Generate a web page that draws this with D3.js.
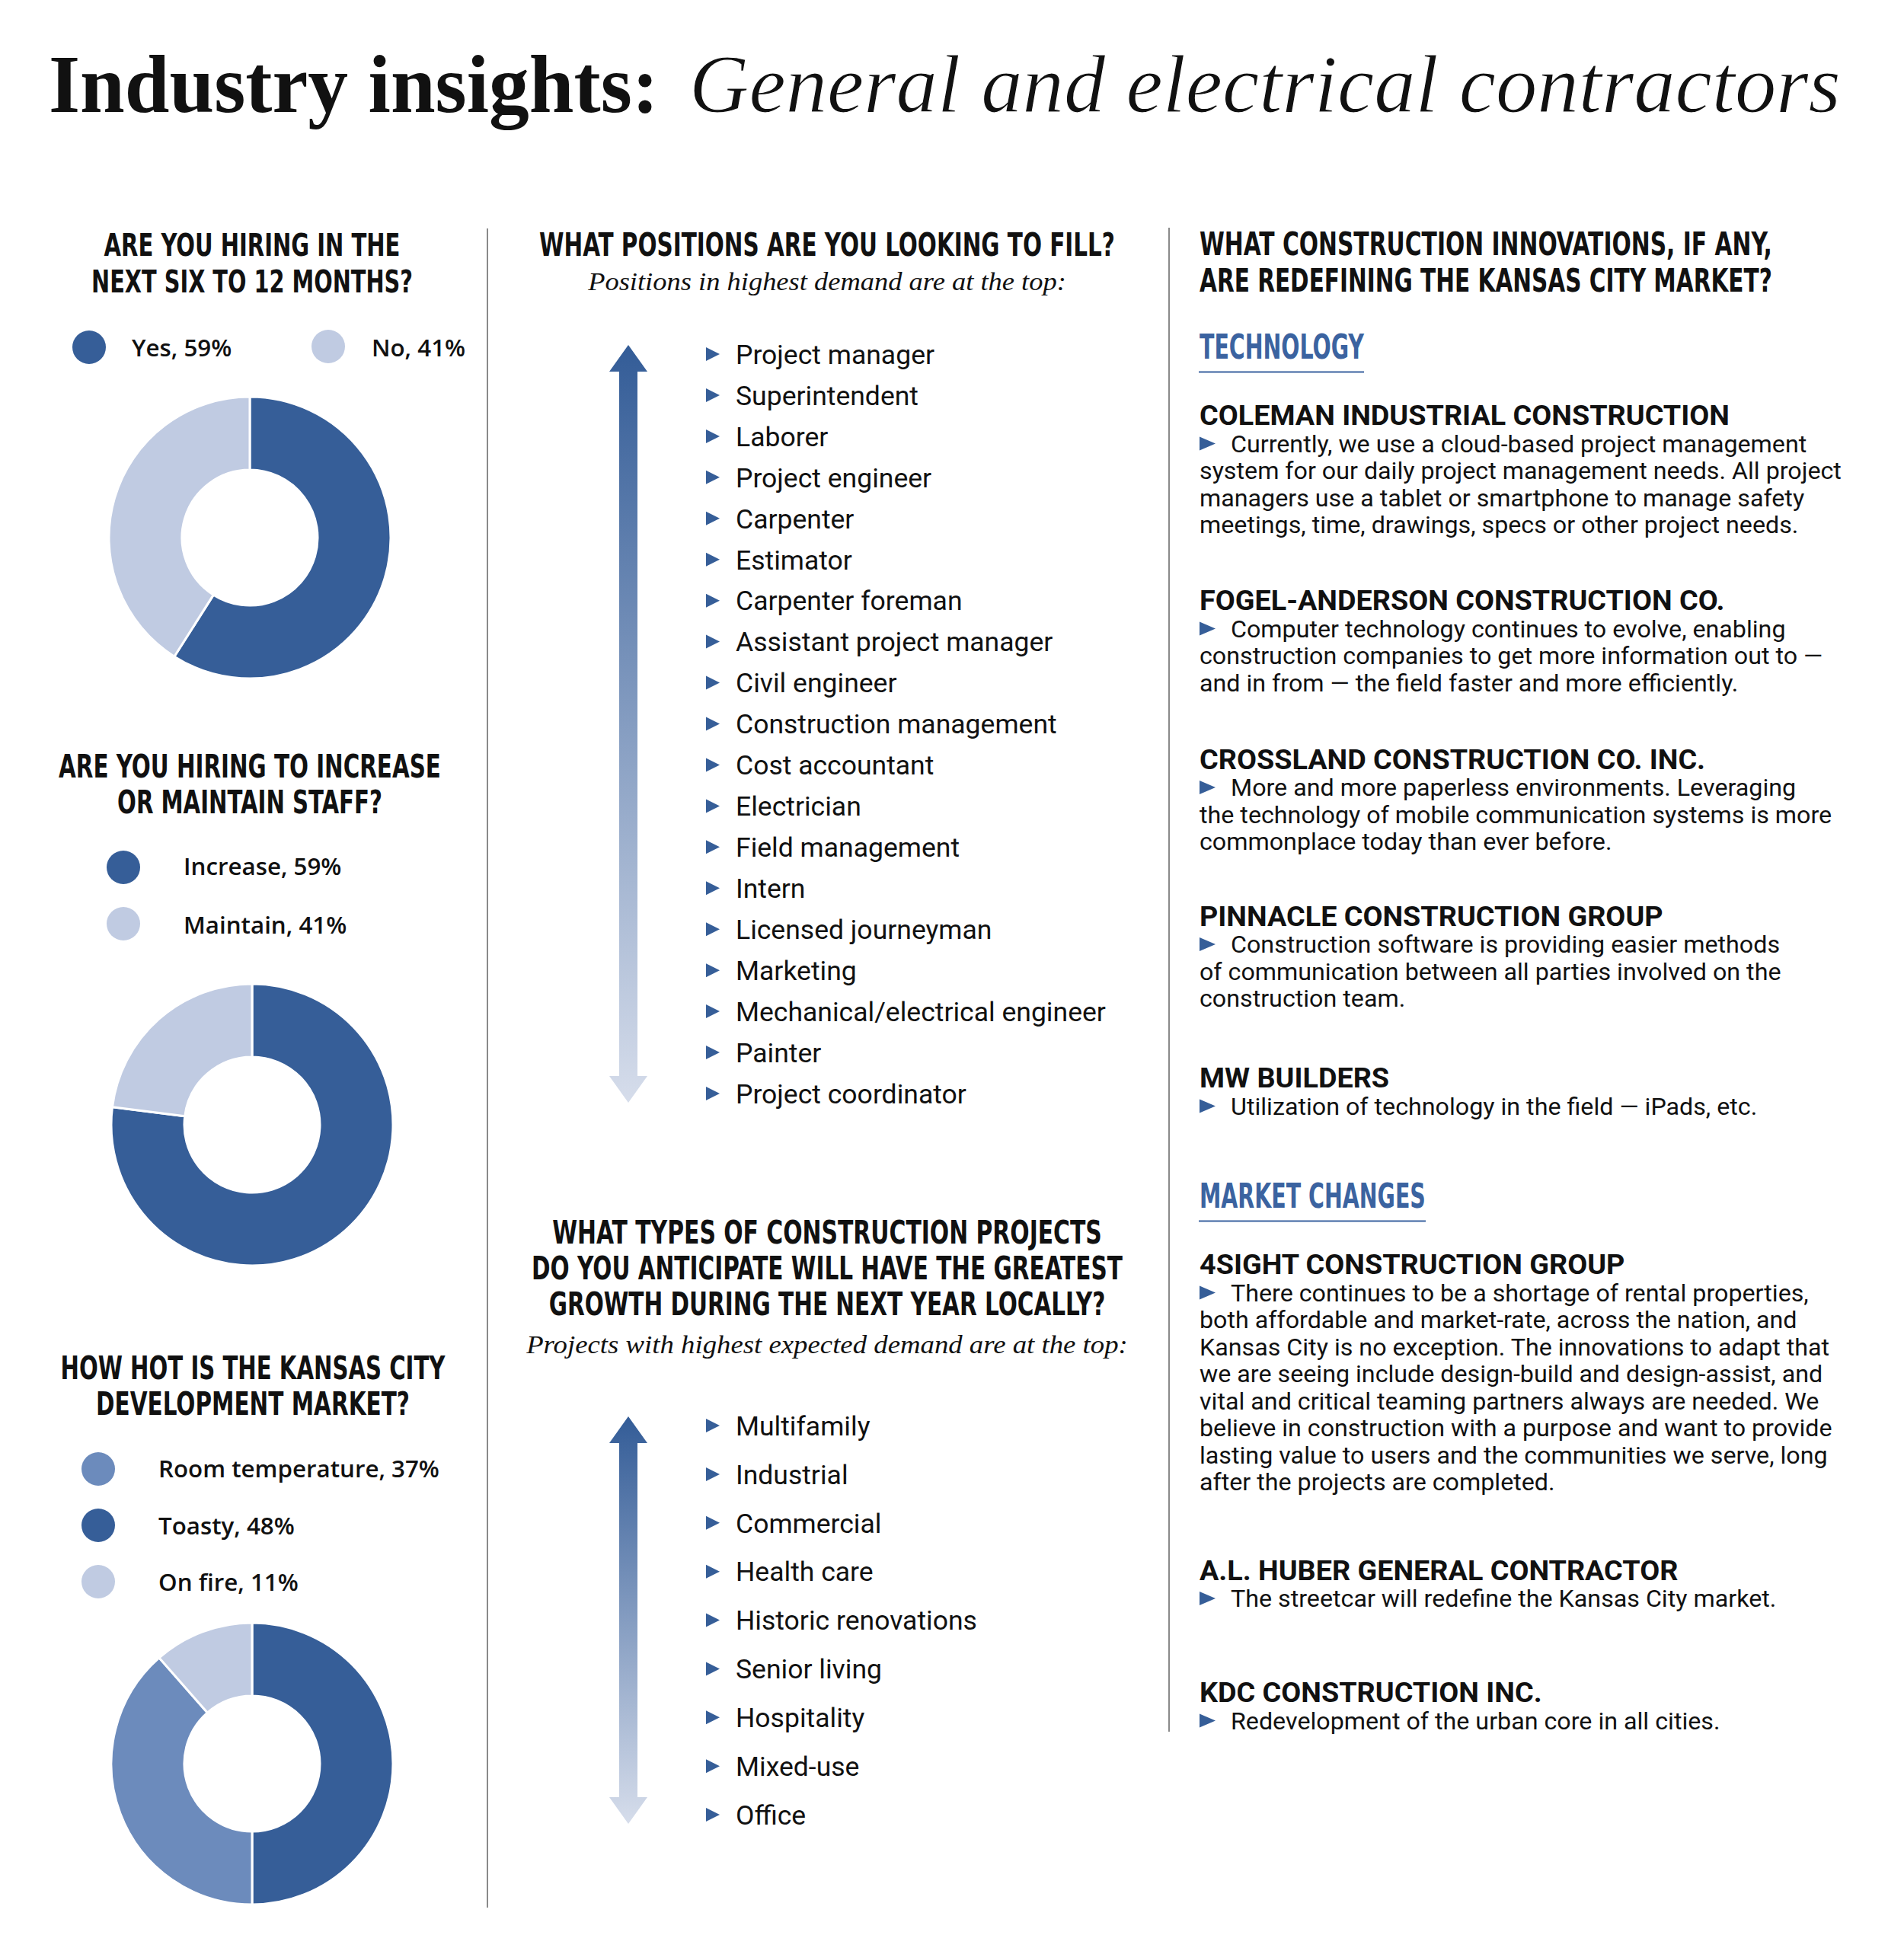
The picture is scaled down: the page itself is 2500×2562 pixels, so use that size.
<!DOCTYPE html>
<html><head><meta charset="utf-8">
<script src="https://cdn.jsdelivr.net/npm/d3@7"></script>
<style>body{margin:0;background:#fff}svg{display:block}</style>
</head><body>
<svg id="chart" width="2500" height="2562"></svg>
<script>
// ---------------- DATA ----------------
const titleBold = "Industry insights:";
const titleItalic = "General and electrical contractors";

const hiringQuestion = ["ARE YOU HIRING IN THE", "NEXT SIX TO 12 MONTHS?"];
const hiringLabels = ["Yes, 59%", "No, 41%"];
const hiringValues = [59, 41];

const staffQuestion = ["ARE YOU HIRING TO INCREASE", "OR MAINTAIN STAFF?"];
const staffLabels = ["Increase, 59%", "Maintain, 41%"];
const staffValues = [77, 23]; // slice sizes as drawn in the reference donut

const marketQuestion = ["HOW HOT IS THE KANSAS CITY", "DEVELOPMENT MARKET?"];
const marketLegendLabels = ["Room temperature, 37%", "Toasty, 48%", "On fire, 11%"];
const marketSliceNames = ["Toasty", "Room temperature", "On fire"];
const marketValues = [48, 37, 11];

const positionsQuestion = ["WHAT POSITIONS ARE YOU LOOKING TO FILL?"];
const positionsNote = "Positions in highest demand are at the top:";
const positions = ["Project manager", "Superintendent", "Laborer", "Project engineer", "Carpenter",
  "Estimator", "Carpenter foreman", "Assistant project manager", "Civil engineer",
  "Construction management", "Cost accountant", "Electrician", "Field management", "Intern",
  "Licensed journeyman", "Marketing", "Mechanical/electrical engineer", "Painter", "Project coordinator"];

const projectsQuestion = ["WHAT TYPES OF CONSTRUCTION PROJECTS", "DO YOU ANTICIPATE WILL HAVE THE GREATEST", "GROWTH DURING THE NEXT YEAR LOCALLY?"];
const projectsNote = "Projects with highest expected demand are at the top:";
const projects = ["Multifamily", "Industrial", "Commercial", "Health care", "Historic renovations",
  "Senior living", "Hospitality", "Mixed-use", "Office"];

const innovationsQuestion = ["WHAT CONSTRUCTION INNOVATIONS, IF ANY,", "ARE REDEFINING THE KANSAS CITY MARKET?"];
const techHeading = "TECHNOLOGY";
const techCompanies = ["COLEMAN INDUSTRIAL CONSTRUCTION", "FOGEL-ANDERSON CONSTRUCTION CO.",
  "CROSSLAND CONSTRUCTION CO. INC.", "PINNACLE CONSTRUCTION GROUP", "MW BUILDERS"];
const techComments = [
  ["Currently, we use a cloud-based project management", "system for our daily project management needs. All project", "managers use a tablet or smartphone to manage safety", "meetings, time, drawings, specs or other project needs."],
  ["Computer technology continues to evolve, enabling", "construction companies to get more information out to —", "and in from — the field faster and more efficiently."],
  ["More and more paperless environments. Leveraging", "the technology of mobile communication systems is more", "commonplace today than ever before."],
  ["Construction software is providing easier methods", "of communication between all parties involved on the", "construction team."],
  ["Utilization of technology in the field — iPads, etc."]
];
const marketHeading = "MARKET CHANGES";
const marketCompanies = ["4SIGHT CONSTRUCTION GROUP", "A.L. HUBER GENERAL CONTRACTOR", "KDC CONSTRUCTION INC."];
const marketComments = [
  ["There continues to be a shortage of rental properties,", "both affordable and market-rate, across the nation, and", "Kansas City is no exception. The innovations to adapt that", "we are seeing include design-build and design-assist, and", "vital and critical teaming partners always are needed. We", "believe in construction with a purpose and want to provide", "lasting value to users and the communities we serve, long", "after the projects are completed."],
  ["The streetcar will redefine the Kansas City market."],
  ["Redevelopment of the urban core in all cities."]
];

// ---------------- STYLE / LAYOUT ----------------
const C = { dark: "#365e98", mid: "#6c8bbc", light: "#c0cbe2", blue: "#3b63a0", ink: "#111111",
  rule: "#8a8a8a", arrowTop: "#335c97", arrowBottom: "#d6ddeb" };
const condensed = "'Liberation Sans Narrow','DejaVu Sans Condensed','Roboto Condensed',sans-serif";
const serif = "'Liberation Serif','DejaVu Serif',serif";

const svg = d3.select("#chart");

function calibrate(family, weight, sample, target, base = 40) {
  const t = svg.append("text").attr("font-family", family).attr("font-weight", weight)
    .attr("font-size", base).text(sample);
  const w = t.node().getComputedTextLength();
  t.remove();
  return base * target / w;
}

// place a text whose rendered width is set to `width` by a horizontal scale transform
function fitText(parent, txt, o) {
  const t = parent.append("text").attr("x", 0).attr("y", 0)
    .attr("text-anchor", o.anchor || "start")
    .attr("font-family", o.family).attr("font-weight", o.weight || 400)
    .attr("font-style", o.style || "normal").attr("font-size", o.size)
    .attr("fill", o.color || C.ink).text(txt);
  const natural = t.node().getComputedTextLength();
  const s = o.width / natural;
  t.attr("transform", `translate(${o.x},${o.y}) scale(${s},1)`);
  return t;
}

function heading(lines, opt) {
  const g = svg.append("g");
  lines.forEach((line, i) => fitText(g, line, {
    x: opt.x, y: opt.baselines[i], anchor: opt.anchor || "middle", family: condensed,
    weight: 700, size: opt.size || 43, color: opt.color || C.ink, width: opt.widths[i]
  }));
  return g;
}

// ---------------- TITLE ----------------
fitText(svg, titleBold, { x: 64, y: 147, family: serif, weight: 700, size: 108, width: 801 });
fitText(svg, titleItalic, { x: 905, y: 147, family: serif, style: "italic", size: 108, width: 1512 })
  .attr("stroke", "#fff").attr("stroke-width", 1.2);

// ---------------- DIVIDERS ----------------
svg.append("line").attr("x1", 640).attr("x2", 640).attr("y1", 300).attr("y2", 2505)
  .attr("stroke", C.rule).attr("stroke-width", 2);
svg.append("line").attr("x1", 1535).attr("x2", 1535).attr("y1", 299).attr("y2", 2274)
  .attr("stroke", C.rule).attr("stroke-width", 2);

// ---------------- LEFT COLUMN: DONUTS ----------------
const legendFont = "'Open Sans','Roboto',sans-serif";
const legendSize = calibrate(legendFont, 600, "Room temperature, 37%", 369);
const pie = d3.pie().sort(null).value(d => d);
const arc = d3.arc().innerRadius(89).outerRadius(185);

function donut(cx, cy, values, colors) {
  svg.append("g").attr("transform", `translate(${cx},${cy})`)
    .selectAll("path").data(pie(values)).join("path")
    .attr("d", arc).attr("fill", (d, i) => colors[i])
    .attr("stroke", "#fff").attr("stroke-width", 3);
}
function legend(items) {
  const g = svg.append("g");
  items.forEach(it => {
    g.append("circle").attr("cx", it.cx).attr("cy", it.cy).attr("r", 22).attr("fill", it.color);
    g.append("text").attr("x", it.tx).attr("y", it.ty).attr("font-family", legendFont)
      .attr("font-weight", 600).attr("font-size", legendSize).attr("fill", C.ink).text(it.label);
  });
}

// Q1
heading(hiringQuestion, { x: 331, baselines: [336, 384], widths: [389, 422], size: 41 });
legend([
  { cx: 117, cy: 456, tx: 173, ty: 468, color: C.dark, label: hiringLabels[0] },
  { cx: 431, cy: 455, tx: 488, ty: 468, color: C.light, label: hiringLabels[1] }
]);
donut(328, 706, hiringValues, [C.dark, C.light]);

// Q2
heading(staffQuestion, { x: 328, baselines: [1021, 1068], widths: [502, 348], size: 43 });
legend([
  { cx: 162, cy: 1139, tx: 241, ty: 1149, color: C.dark, label: staffLabels[0] },
  { cx: 162, cy: 1213, tx: 241, ty: 1226, color: C.light, label: staffLabels[1] }
]);
donut(331, 1477, staffValues, [C.dark, C.light]);

// Q3
heading(marketQuestion, { x: 332, baselines: [1811, 1858], widths: [505, 412], size: 43 });
const marketLegendColors = [C.mid, C.dark, C.light];
legend(marketLegendLabels.map((l, i) => ({ cx: 129, cy: 1929 + i * 74, tx: 208, ty: 1940 + i * 74.5,
  color: marketLegendColors[i], label: l })));
donut(331, 2316, marketValues, [C.dark, C.mid, C.light]);

// ---------------- MIDDLE COLUMN: RANKED LISTS ----------------
const listFont = "'Roboto','Noto Sans',sans-serif";
const listSize = calibrate(listFont, 400, "Mechanical/electrical engineer", 486);

const grad = svg.append("defs").append("linearGradient").attr("id", "arrowGrad")
  .attr("x1", 0).attr("x2", 0).attr("y1", 0).attr("y2", 1);
grad.append("stop").attr("offset", "0%").attr("stop-color", C.arrowTop);
grad.append("stop").attr("offset", "100%").attr("stop-color", C.arrowBottom);

function rankedList(items, range) {
  const y = d3.scalePoint().domain(items).range(range);
  const top = range[0] - 12, bot = range[1] + 12, cx = 825, sw = 12, hw = 25, hh = 35;
  const p = d3.path();
  p.moveTo(cx, top); p.lineTo(cx + hw, top + hh); p.lineTo(cx + sw, top + hh);
  p.lineTo(cx + sw, bot - hh); p.lineTo(cx + hw, bot - hh); p.lineTo(cx, bot);
  p.lineTo(cx - hw, bot - hh); p.lineTo(cx - sw, bot - hh); p.lineTo(cx - sw, top + hh);
  p.lineTo(cx - hw, top + hh); p.closePath();
  svg.append("path").attr("d", p.toString()).attr("fill", "url(#arrowGrad)");
  const g = svg.append("g");
  const row = g.selectAll("g").data(items).join("g").attr("transform", d => `translate(0,${y(d)})`);
  row.append("path").attr("d", "M927,-9L945,0L927,9Z").attr("fill", C.dark);
  row.append("text").attr("x", 966).attr("dy", "0.36em").attr("font-family", listFont)
    .attr("font-size", listSize).attr("fill", C.ink).text(d => d);
}

heading(positionsQuestion, { x: 1086, baselines: [335.5], widths: [756], size: 43 });
fitText(svg, positionsNote, { x: 1086, y: 381, anchor: "middle", family: serif, style: "italic", size: 34, width: 628 });
rankedList(positions, [465, 1436]);

heading(projectsQuestion, { x: 1086, baselines: [1632.5, 1680, 1727], widths: [722, 776, 731], size: 43 });
fitText(svg, projectsNote, { x: 1086, y: 1776.5, anchor: "middle", family: serif, style: "italic", size: 34, width: 790 });
rankedList(projects, [1872, 2383]);

// ---------------- RIGHT COLUMN: COMMENTS ----------------
const bodyFont = "'Roboto','Noto Sans',sans-serif";
const bodySize = calibrate(bodyFont, 400, "system for our daily project management needs. All project", 843);
const headSize = calibrate(bodyFont, 700, "COLEMAN INDUSTRIAL CONSTRUCTION", 696);
const lineStep = 35.5;

heading(innovationsQuestion, { x: 1575, anchor: "start", baselines: [335, 382.5], widths: [752, 752], size: 43 });

function sectionHead(label, baseline, width) {
  heading([label], { x: 1575, anchor: "start", baselines: [baseline], widths: [width], size: 45, color: C.blue });
  svg.append("line").attr("x1", 1574).attr("x2", 1574 + width + 1).attr("y1", baseline + 17.5)
    .attr("y2", baseline + 17.5).attr("stroke", C.blue).attr("stroke-width", 2);
}
function entries(names, comments, baselines) {
  names.forEach((name, i) => {
    const b = baselines[i];
    svg.append("text").attr("x", 1575).attr("y", b).attr("font-family", bodyFont)
      .attr("font-weight", 700).attr("font-size", headSize).attr("fill", C.ink).text(name);
    const g = svg.append("g");
    g.append("path").attr("d", `M1575,${b + lineStep - 20}L1596,${b + lineStep - 11}L1575,${b + lineStep - 2}Z`)
      .attr("fill", C.dark);
    g.selectAll("text").data(comments[i]).join("text")
      .attr("x", (d, j) => j === 0 ? 1616 : 1575)
      .attr("y", (d, j) => b + lineStep * (j + 1))
      .attr("font-family", bodyFont).attr("font-size", bodySize).attr("fill", C.ink).text(d => d);
  });
}

sectionHead(techHeading, 471, 216);
entries(techCompanies, techComments, [558, 801, 1009.5, 1215.5, 1428]);
sectionHead(marketHeading, 1586, 297);
entries(marketCompanies, marketComments, [1673, 2074.5, 2235]);
</script>
</body></html>
